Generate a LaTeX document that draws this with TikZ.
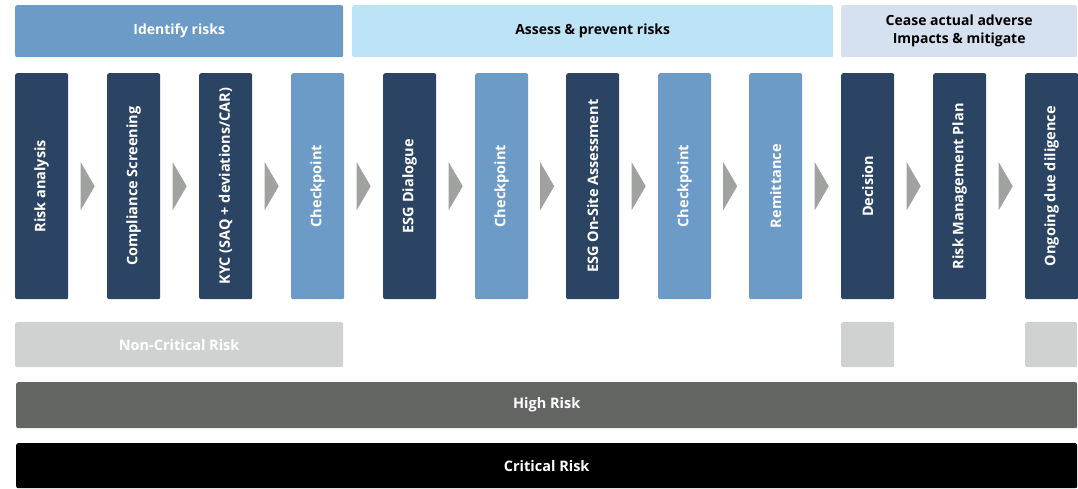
\documentclass[tikz,border=0pt]{standalone}
\usepackage{fontspec}
\setmainfont{Open Sans}
\begin{document}
\begin{tikzpicture}[x=1pt,y=-1pt,
  every node/.style={inner sep=0pt,font=\bfseries},
  box/.style={rounded corners=2pt,minimum width=53pt,minimum height=226pt,text=white,anchor=north west},
  dark/.style={box,fill=darkblue},
  light/.style={box,fill=midblue},
  vlabel/.style={rotate=90,font=\bfseries\fontsize{14.5}{17}\selectfont,text=white},
  hdr/.style={rounded corners=2pt,minimum height=52pt,anchor=north west,align=center,font=\bfseries\fontsize{14}{18}\selectfont},
  band/.style={rounded corners=2pt,minimum height=45pt,anchor=north west,text=white,font=\bfseries\fontsize{14.5}{17}\selectfont},
  chev/.style={fill=arrowgray}]
\definecolor{darkblue}{HTML}{2C4463}
\definecolor{midblue}{HTML}{6C9BC8}
\definecolor{paleblue}{HTML}{BDE3F7}
\definecolor{lavender}{HTML}{D6E1EF}
\definecolor{arrowgray}{HTML}{A0A2A0}
\definecolor{softgray}{HTML}{D0D2D1}
\definecolor{stonegray}{HTML}{636563}
\useasboundingbox (0,0) rectangle (1078,488);

% phase headers
\node[hdr,fill=midblue,text=white,minimum width=328pt] (h1) at (15,5) {Identify risks};
\node[hdr,fill=paleblue,text=black,minimum width=481pt] (h2) at (352,5) {Assess \& prevent risks};
\node[hdr,fill=lavender,text=black,minimum width=236pt] (h3) at (841,5) {Cease actual adverse\\Impacts \& mitigate};

% process steps
\foreach \i/\x/\st/\txt in {1/15/dark/{Risk analysis},
  2/107/dark/{Compliance Screening},
  3/199/dark/{KYC (SAQ + deviations/CAR)},
  4/291/light/{Checkpoint},
  5/383/dark/{ESG Dialogue},
  6/475/light/{Checkpoint},
  7/566/dark/{ESG On-Site Assessment},
  8/658/light/{Checkpoint},
  9/749/light/{Remittance},
  10/841/dark/{Decision},
  11/933/dark/{Risk Management Plan},
  12/1025/dark/{Ongoing due diligence}}{
  \node[\st] (s\i) at (\x,73) {};
  \node[vlabel] (t\i) at (s\i.center) {\txt};
}

% chevrons between steps
\foreach \a/\b in {1/2,2/3,3/4,4/5,5/6,6/7,7/8,8/9,9/10,10/11,11/12}{
  \path (s\a.east) -- (s\b.west) coordinate[pos=0.5] (m\a);
  \fill[chev] ([xshift=-7pt,yshift=-24pt]m\a) -- ([xshift=7pt]m\a) -- ([xshift=-7pt,yshift=24pt]m\a) -- cycle;
}

% risk bands
\node[band,fill=softgray,minimum width=328pt] (nc) at (15,322) {Non-Critical Risk};
\node[band,fill=softgray,minimum width=53pt] (nc2) at (841,322) {};
\node[band,fill=softgray,minimum width=52pt] (nc3) at (1025,322) {};
\node[band,fill=stonegray,minimum width=1061pt,minimum height=46pt] (hr) at (16,382) {High Risk};
\node[band,fill=black,minimum width=1061pt,minimum height=45pt] (cr) at (16,443) {Critical Risk};
\end{tikzpicture}
\end{document}
